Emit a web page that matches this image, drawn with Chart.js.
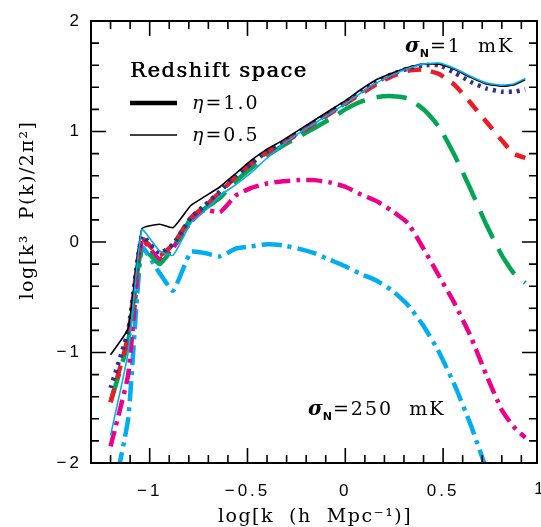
<!DOCTYPE html>
<html>
<head>
<meta charset="utf-8">
<script src="https://cdn.jsdelivr.net/npm/chart.js@4.4.1/dist/chart.umd.min.js"></script>
<style>
  html, body { margin: 0; padding: 0; background: #fff; }
  #wrap { width: 541px; height: 527px; position: relative; }
</style>
</head>
<body>
<div id="wrap"><canvas id="chart" width="541" height="527"></canvas></div>
<script>
// log k bins (h/Mpc) shared by every curve
const logK = [-1.2, -1.11, -1.04, -0.95, -0.88, -0.79, -0.72, -0.64, -0.56, -0.48, -0.4, -0.32, -0.24, -0.16,
  -0.08, 0, 0.08, 0.16, 0.24, 0.32, 0.4, 0.48, 0.56, 0.64, 0.72, 0.8, 0.86, 0.92];

// log[k^3 P(k)/2pi^2]
const blackThin = [-1.02, -0.78, 0.12, 0.16, 0.13, 0.33, 0.41, 0.50, 0.62, 0.74, 0.84, 0.92, 1.01, 1.10,
  1.19, 1.28, 1.38, 1.47, 1.53, 1.58, 1.61, 1.61, 1.56, 1.49, 1.43, 1.41, 1.42, 1.47];
const cyanThin = [-1.75, -1.0, 0.11, -0.08, -0.12, 0.17, 0.28, 0.42, 0.52, 0.63, 0.76, 0.88, 0.98, 1.07,
  1.16, 1.25, 1.35, 1.44, 1.51, 1.57, 1.61, 1.62, 1.57, 1.50, 1.44, 1.42, 1.43, 1.48];
const blueDotted = [-1.32, -0.8, 0.05, -0.1, -0.02, 0.22, 0.33, 0.46, 0.60, 0.71, 0.82, 0.90, 0.99, 1.08,
  1.17, 1.26, 1.36, 1.45, 1.52, 1.57, 1.60, 1.60, 1.53, 1.45, 1.39, 1.36, 1.36, 1.38];
const redDashed = [-1.45, -0.85, 0.03, -0.12, -0.02, 0.22, 0.32, 0.45, 0.59, 0.71, 0.81, 0.89, 0.98, 1.07,
  1.16, 1.25, 1.34, 1.43, 1.50, 1.55, 1.56, 1.52, 1.42, 1.26, 1.09, 0.92, 0.80, 0.76];
const greenLongDash = [-1.45, -0.9, -0.05, -0.2, -0.05, 0.21, 0.30, 0.40, 0.55, 0.67, 0.78, 0.87, 0.95, 1.03,
  1.11, 1.20, 1.27, 1.31, 1.32, 1.30, 1.20, 1.04, 0.78, 0.48, 0.16, -0.12, -0.28, -0.37];
const magentaDashDot = [-1.85, -1.2, 0.02, -0.16, -0.05, 0.18, 0.29, 0.27, 0.42, 0.49, 0.53, 0.55, 0.56, 0.56,
  0.54, 0.50, 0.43, 0.37, 0.28, 0.17, -0.06, -0.31, -0.56, -0.85, -1.2, -1.52, -1.67, -1.77];
const cyanDashDot = [-2.4, -1.6, -0.05, -0.28, -0.44, -0.09, -0.1, -0.13, -0.06, -0.04, -0.02, -0.03, -0.06, -0.1,
  -0.16, -0.22, -0.29, -0.35, -0.44, -0.57, -0.76, -1.0, -1.3, -1.65, -2.05, null, null, null];

const xTicks = [-1, -0.5, 0, 0.5];
const yTicks = [-2, -1, 0, 1, 2];

const pts = (arr) => logK.map((k, i) => ({x: k, y: arr[i]}));

function line(data, color, width, dash, order) {
  return {
    data: pts(data),
    borderColor: color,
    borderWidth: width,
    borderDash: dash,
    pointRadius: 0,
    tension: 0.15,
    spanGaps: false,
    order: order,
  };
}

const minus = (v) => String(v).replace('-', '\u2212');

// frame, inward ticks on four sides and the in-plot labels
const decor = {
  id: 'decor',
  beforeDraw(chart) {
    chart.ctx.letterSpacing = '3px';
  },
  afterDraw(chart) {
    const {ctx, chartArea: a, scales: {x, y}} = chart;
    ctx.save();
    ctx.letterSpacing = '0px';
    ctx.strokeStyle = '#000';
    ctx.lineWidth = 2;
    ctx.strokeRect(a.left, a.top, a.right - a.left, a.bottom - a.top);
    ctx.lineWidth = 1.6;
    ctx.beginPath();
    for (let i = -13; i <= 9; i++) {
      const px = x.getPixelForValue(i / 10);
      const len = i % 5 === 0 ? 15 : 8;
      ctx.moveTo(px, a.bottom); ctx.lineTo(px, a.bottom - len);
      ctx.moveTo(px, a.top); ctx.lineTo(px, a.top + len);
    }
    for (let i = -10; i <= 10; i++) {
      const py = y.getPixelForValue(i / 5);
      const len = i % 5 === 0 ? 15 : 8;
      ctx.moveTo(a.left, py); ctx.lineTo(a.left + len, py);
      ctx.moveTo(a.right, py); ctx.lineTo(a.right - len, py);
    }
    ctx.stroke();

    ctx.fillStyle = '#000';
    // last x tick label sits half off the canvas, as in the original
    ctx.font = '17px "Liberation Sans"';
    ctx.textAlign = 'center';
    ctx.textBaseline = 'middle';
    ctx.fillText('1', x.getPixelForValue(1) - 2, 489);

    ctx.textBaseline = 'alphabetic';
    ctx.textAlign = 'left';
    ctx.font = '21px "DejaVu Serif"';
    ctx.letterSpacing = '1.5px';
    ctx.fillText('Redshift space', 130, 77);
    ctx.fillText('Redshift space', 130.6, 77);

    // legend keys
    ctx.lineWidth = 4.5;
    ctx.beginPath(); ctx.moveTo(130, 103); ctx.lineTo(177, 103); ctx.stroke();
    ctx.lineWidth = 1.5;
    ctx.beginPath(); ctx.moveTo(130, 135); ctx.lineTo(177, 135); ctx.stroke();

    function eta(txt, x0, base) {
      ctx.font = 'italic 19px "DejaVu Serif"';
      ctx.letterSpacing = '0px';
      ctx.fillText('\u03b7', x0, base);
      const w = ctx.measureText('\u03b7').width;
      ctx.font = '19px "DejaVu Serif"';
      ctx.letterSpacing = '2px';
      ctx.fillText(txt, x0 + w + 2, base);
    }
    eta('=1.0', 192, 109);
    eta('=0.5', 192, 141);

    function sigma(txt, x0, base) {
      ctx.font = 'italic bold 20px "DejaVu Serif"';
      ctx.letterSpacing = '0px';
      ctx.fillText('\u03c3', x0, base);
      let w = ctx.measureText('\u03c3').width;
      ctx.font = 'bold 11px "DejaVu Sans"';
      ctx.fillText('N', x0 + w, base + 5);
      w += ctx.measureText('N').width + 1;
      ctx.font = '19px "DejaVu Serif"';
      ctx.letterSpacing = '2px';
      ctx.fillText(txt, x0 + w, base);
    }
    sigma('=1  mK', 405, 52);
    sigma('=250  mK', 308, 415);

    // axis titles
    ctx.font = '19px "DejaVu Serif"';
    ctx.letterSpacing = '1.5px';
    ctx.textAlign = 'center';
    ctx.fillText('log[k  (h  Mpc\u207b\u00b9)]', 315, 522);
    ctx.translate(33, 210);
    ctx.rotate(-Math.PI / 2);
    ctx.fillText('log[k\u00b3  P(k)/2\u03c0\u00b2]', 0, 0);
    ctx.restore();
  }
};

new Chart(document.getElementById('chart').getContext('2d'), {
  type: 'line',
  data: {
    datasets: [
      line(cyanThin, '#00aeef', 1.6, [], 0),
      line(blackThin, '#000000', 1.6, [], 1),
      line(blueDotted, '#2e3192', 4.5, [3, 5], 2),
      line(redDashed, '#ed1c24', 4.5, [14, 10], 3),
      line(greenLongDash, '#00a651', 4.5, [30, 12], 4),
      line(magentaDashDot, '#ec008c', 4.5, [16, 6, 4, 6], 5),
      line(cyanDashDot, '#00aeef', 4.5, [20, 6, 4, 6], 6),
    ],
  },
  options: {
    responsive: false,
    animation: false,
    layout: {padding: {left: 0, right: 4, top: 21, bottom: 0}},
    plugins: {legend: {display: false}, tooltip: {enabled: false}},
    scales: {
      x: {
        type: 'linear',
        min: -1.3,
        max: 0.98,
        grid: {display: false, drawTicks: false},
        border: {display: false},
        afterBuildTicks: (s) => { s.ticks = xTicks.map((v) => ({value: v})); },
        afterFit: (s) => { s.height = 64; },
        ticks: {
          color: '#000',
          padding: 18,
          maxRotation: 0,
          font: {family: '"Liberation Sans"', size: 17},
          callback: minus,
        },
      },
      y: {
        type: 'linear',
        min: -2,
        max: 2,
        grid: {display: false, drawTicks: false},
        border: {display: false},
        afterBuildTicks: (s) => { s.ticks = yTicks.map((v) => ({value: v})); },
        afterFit: (s) => { s.width = 91; },
        ticks: {
          color: '#000',
          padding: 9,
          font: {family: '"Liberation Sans"', size: 17},
          callback: minus,
        },
      },
    },
  },
  plugins: [decor],
});
</script>
</body>
</html>
